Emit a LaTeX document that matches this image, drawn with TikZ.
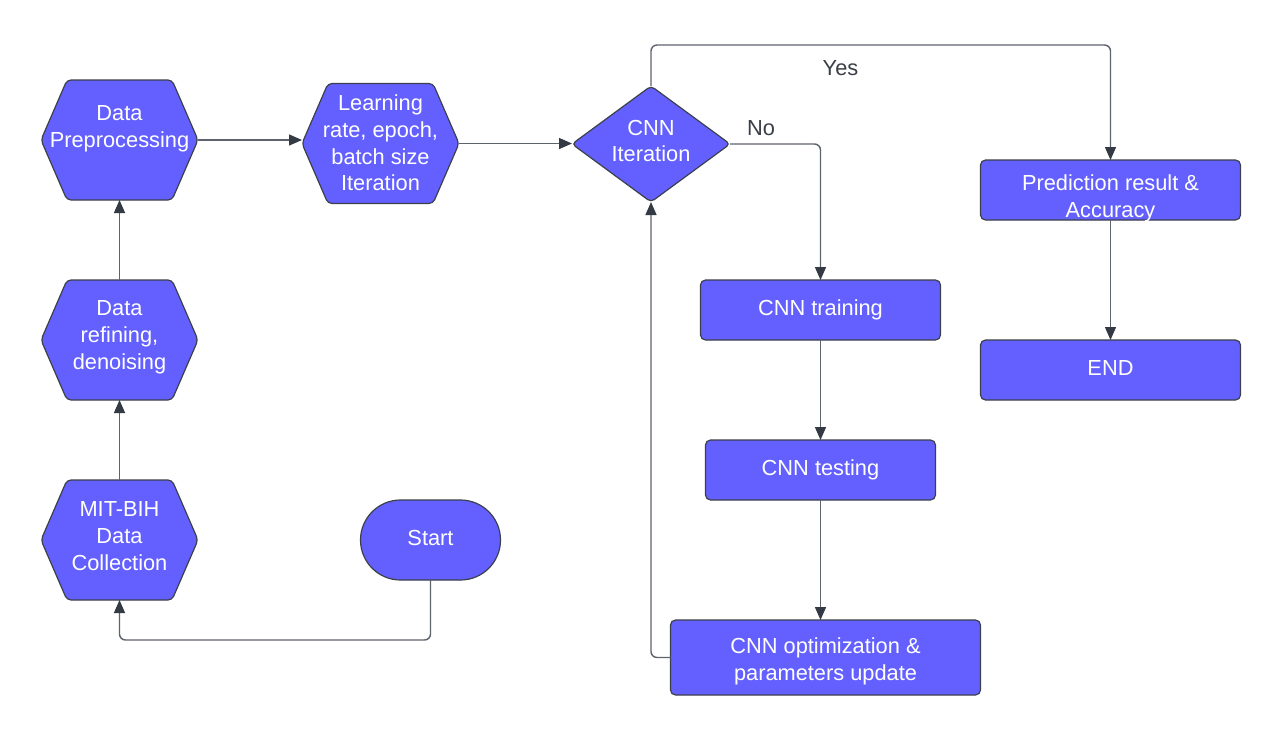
\documentclass[tikz,border=0pt]{standalone}
\usepackage{fontspec}
\setmainfont{Liberation Sans}
\usetikzlibrary{arrows.meta,calc,backgrounds}
\definecolor{boxfill}{RGB}{99,96,255}
\definecolor{boxline}{RGB}{60,64,74}
\definecolor{connline}{RGB}{94,100,110}
\definecolor{tipcol}{RGB}{52,58,68}
\definecolor{labcol}{RGB}{58,62,70}
\begin{document}
\begin{tikzpicture}[x=0.5pt,y=-0.5pt,
  hexbox/.style={rectangle,inner sep=0pt,outer sep=0pt,minimum width=78.5pt,minimum height=60pt},
  diabox/.style={rectangle,inner sep=0pt,outer sep=0pt,minimum width=79pt,minimum height=58pt},
  procbox/.style={rectangle,draw=boxline,fill=boxfill,line width=0.6pt,rounded corners=2.5pt,inner sep=0pt,outer sep=0pt},
  shapefill/.style={draw=boxline,fill=boxfill,line width=0.6pt,rounded corners=2pt},
  txt/.style={text=white,align=center,font=\fontsize{10.9}{13.4}\selectfont,inner sep=0pt},
  lab/.style={text=labcol,font=\fontsize{10.9}{13.4}\selectfont,inner sep=0pt},
  conn/.style={draw=connline,line width=0.7pt,rounded corners=3pt,-{Triangle[length=6.5pt,width=5.5pt,color=tipcol]}}
]
\useasboundingbox (0,0) rectangle (1281,735);

% shape frames
\node[hexbox] (dp) at (119.5,140) {};
\node[hexbox] (lr) at (380.5,143.5) {};
\node[hexbox] (ref) at (119.5,340) {};
\node[hexbox] (mit) at (119.5,540) {};
\node[diabox] (it) at (651,144) {};
\node[procbox,rounded corners=20pt,minimum width=70pt,minimum height=40pt] (start) at (430.5,540) {};
\node[procbox,minimum width=120pt,minimum height=30pt] (tr) at (820.5,310) {};
\node[procbox,minimum width=115pt,minimum height=30pt] (te) at (820.5,470) {};
\node[procbox,minimum width=155pt,minimum height=37.5pt] (op) at (825.5,657.5) {};
\node[procbox,minimum width=130pt,minimum height=30pt] (pr) at (1110.5,190) {};
\node[procbox,minimum width=130pt,minimum height=30pt] (en) at (1110.5,370) {};

\begin{scope}[on background layer]
\fill[white] (0,0) rectangle (1281,735);
\foreach \n in {dp,lr,ref,mit} {
  \draw[shapefill] (\n.west) -- ($(\n.north west)+(26,0)$) -- ($(\n.north east)+(-26,0)$) -- (\n.east)
    -- ($(\n.south east)+(-26,0)$) -- ($(\n.south west)+(26,0)$) -- cycle;
}
\draw[shapefill] (it.west) -- (it.north) -- (it.east) -- (it.south) -- cycle;
\end{scope}

% texts
\node[txt] (dpt) at (119.5,129) {Data\\Preprocessing};
\node[txt] (lrt) at (380.5,143) {Learning\\rate, epoch,\\batch size\\Iteration};
\node[txt] (reft) at (119.5,337) {Data\\refining,\\denoising};
\node[txt] (mitt) at (119.5,536) {MIT-BIH\\Data\\Collection};
\node[txt] (itt) at (651,141) {CNN\\Iteration};
\node[txt] (startt) at (430.5,537.5) {Start};
\node[txt] (trt) at (820.5,309.5) {CNN training};
\node[txt] (tet) at (820.5,469.5) {CNN testing};
\node[txt] (opt) at (825.5,661) {CNN optimization \&\\parameters update};
\node[txt] (prt) at (1110.5,198) {Prediction result \&\\Accuracy};
\node[txt] (ent) at (1110.5,367.5) {END};

% connectors
\draw[conn] (start.south) -- ++(0,60) -| (mit.south);
\draw[conn] (mit.north) -- (ref.south);
\draw[conn] (ref.north) -- (dp.south);
\draw[conn] (dp.east) -- (dp.east -| lr.west);
\draw[conn] (lr.east) -- (lr.east -| it.west);
\draw[conn] (it.east) -| (tr.north);
\draw[conn] (it.north) -- ++(0,-41) -| (pr.north);
\draw[conn] (tr.south) -- (te.north);
\draw[conn] (te.south) -- (te.south |- op.north);
\draw[conn] (op.west) -| (it.south);
\draw[conn] (pr.south) -- (en.north);

% labels
\node[lab] (yes) at (840.5,68.5) {Yes};
\node[lab] (no) at (761,128) {No};
\end{tikzpicture}
\end{document}
